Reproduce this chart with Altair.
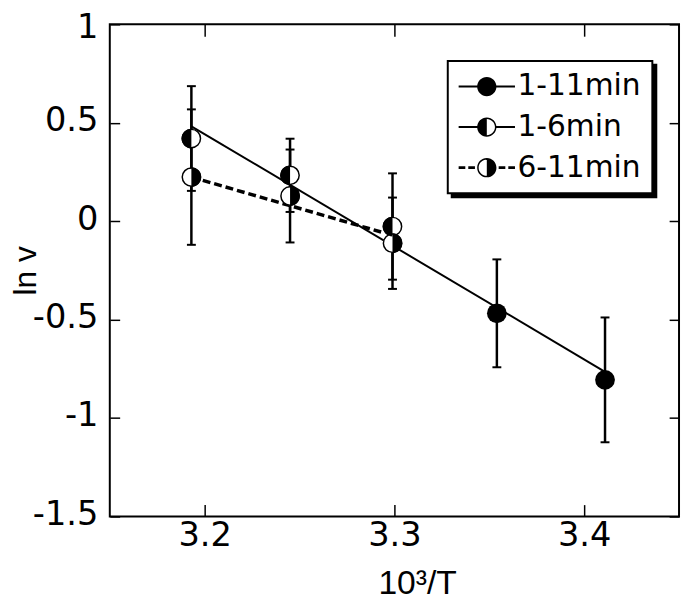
import altair as alt
import pandas as pd

# ---------------- data ----------------
series_names = ["1-11min", "1-6min", "6-11min"]

x_1_11 = [3.354, 3.411]
y_1_11 = [-0.468, -0.806]
e_1_11 = [0.274, 0.317]

x_1_6 = [3.193, 3.245, 3.299]
y_1_6 = [0.420, 0.233, -0.027]
e_1_6 = [0.266, 0.186, 0.270]

x_6_11 = [3.193, 3.245, 3.299]
y_6_11 = [0.224, 0.128, -0.112]
e_6_11 = [0.344, 0.236, 0.232]

fit_solid_x = [3.193, 3.411]
fit_solid_y = [0.482, -0.765]
fit_dash_x = [3.193, 3.293]
fit_dash_y = [0.224, -0.055]

x_ticks = [3.2, 3.3, 3.4]
y_ticks = [-1.5, -1, -0.5, 0, 0.5, 1]
x_domain = [3.15, 3.45]
y_domain = [-1.5, 1]
legend_dummy_x = 3.0   # outside the domain: legend-only layer, clipped away


# ---------------- tables ----------------
def table(name, xs, ys, es):
    return pd.DataFrame({
        "series": name, "x": xs, "y": ys,
        "lo": [a - b for a, b in zip(ys, es)],
        "hi": [a + b for a, b in zip(ys, es)],
    })

df_1_11 = table(series_names[0], x_1_11, y_1_11, e_1_11)
df_1_6 = table(series_names[1], x_1_6, y_1_6, e_1_6)
df_6_11 = table(series_names[2], x_6_11, y_6_11, e_6_11)
df_all = pd.concat([df_1_11, df_1_6, df_6_11], ignore_index=True)
df_half = pd.concat([df_1_6, df_6_11], ignore_index=True)
df_fit_solid = pd.DataFrame({"x": fit_solid_x, "y": fit_solid_y})
df_fit_dash = pd.DataFrame({"x": fit_dash_x, "y": fit_dash_y})
shadow_names = [s + "\u200b" for s in series_names]   # distinct domain -> separate (shadow) legend
df_legend = pd.DataFrame({"series": series_names, "series2": shadow_names,
                          "x": [legend_dummy_x] * 3, "y": [0.0] * 3})


# ---------------- symbol paths ----------------
def n(v):
    return f"{v:.3f}"

def rect_cw(x0, x1, h):
    return f"M{n(x0)},{n(-h)}H{n(x1)}V{n(h)}H{n(x0)}Z"

def rect_ccw(x0, x1, h):
    return f"M{n(x0)},{n(-h)}V{n(h)}H{n(x1)}V{n(-h)}Z"

def disc(r):
    return f"M{n(-r)},0A{n(r)},{n(r)},0,1,1,{n(r)},0A{n(r)},{n(r)},0,1,1,{n(-r)},0Z"

def left_half(r):
    return f"M0,{n(-r)}A{n(r)},{n(r)},0,0,0,0,{n(r)}Z"

def right_half(r):
    return f"M0,{n(-r)}A{n(r)},{n(r)},0,0,1,0,{n(r)}Z"

def right_ring(r, ri):
    return (f"M0,{n(-r)}A{n(r)},{n(r)},0,0,1,0,{n(r)}L0,{n(ri)}"
            f"A{n(ri)},{n(ri)},0,0,0,0,{n(-ri)}Z")

def left_ring(r, ri):
    return (f"M0,{n(-r)}A{n(r)},{n(r)},0,0,0,0,{n(r)}L0,{n(ri)}"
            f"A{n(ri)},{n(ri)},0,0,1,0,{n(-ri)}Z")

# legend glyphs: symbol size 900 -> 15 px per path unit; glyph spans +-1.9 units (57 px)
GLYPH_SIZE = 900
E = 1.9
R, RI, H1, H2 = 0.65, 0.55, 0.067, 0.1
glyph_full = rect_cw(-E, -R + 0.02, H1) + disc(R) + rect_cw(R - 0.02, E, H1)
glyph_left = rect_ccw(-E, -R + 0.02, H1) + left_half(R) + right_ring(R, RI) + rect_cw(R - 0.02, E, H1)
glyph_right = (rect_ccw(-1.9, -1.45, H2) + rect_ccw(-1.25, -0.8, H2) + right_half(R) + left_ring(R, RI)
               + rect_cw(0.8, 1.25, H2) + rect_cw(1.45, 1.9, H2))
half_left_path = left_half(1)
half_right_path = right_half(1)

# ---------------- scales & axes ----------------
xs = alt.Scale(domain=x_domain, nice=False, zero=False)
ys = alt.Scale(domain=y_domain, nice=False, zero=False)
LBL = "DejaVu Sans"
TTL = "Liberation Sans"

ax_bottom = alt.Axis(orient="bottom", values=x_ticks, offset=-12, tickSize=12, tickWidth=1.5,
                     tickColor="black", domain=False, grid=False, labelFont=LBL, labelFontSize=34,
                     labelColor="black", labelPadding=2, labelExpr="'' + datum.value", labelFlush=False,
                     title="10³/T", titleFont=TTL, titleFontSize=34, titleFontWeight="normal",
                     titleColor="black", titleX=311, titleY=90, titleBaseline="alphabetic",
                     titleAlign="center")
ax_left = alt.Axis(orient="left", values=y_ticks, offset=-10, tickSize=10, tickWidth=1.5,
                   tickColor="black", domain=False, grid=False, labelFont=LBL, labelFontSize=34,
                   labelColor="black", labelPadding=12, labelExpr="'' + datum.value", labelFlush=False,
                   labelOffset={"condition": {"test": "datum.value === 1", "value": 3}, "value": -2},
                   title="ln v", titleFont=TTL, titleFontSize=32, titleFontWeight="normal",
                   titleColor="black", titleX=-85, titleY=249, titleAngle=270,
                   titleBaseline="alphabetic", titleAlign="center")
ax_top = alt.Axis(orient="top", values=x_ticks, offset=-12, tickSize=12, tickWidth=1.5,
                  tickColor="black", domain=False, grid=False, labels=False, title=None)
ax_right = alt.Axis(orient="right", values=y_ticks, offset=-10, tickSize=10, tickWidth=1.5,
                    tickColor="black", domain=False, grid=False, labels=False, title=None)

def X(field="x", axis=None):
    return alt.X(f"{field}:Q", scale=xs, axis=axis)

def Y(field="y", axis=None):
    return alt.Y(f"{field}:Q", scale=ys, axis=axis)

# ---------------- layers ----------------
err_rule = alt.Chart(df_all).mark_rule(color="black", strokeWidth=2.5).encode(
    x=X(axis=ax_bottom), y=Y("lo", axis=ax_left), y2="hi:Q")
cap_lo = alt.Chart(df_all).mark_tick(orient="horizontal", size=9, thickness=2,
                                     color="black", opacity=1).encode(x=X(), y=Y("lo"))
cap_hi = alt.Chart(df_all).mark_tick(orient="horizontal", size=9, thickness=2,
                                     color="black", opacity=1).encode(x=X(), y=Y("hi"))

fit_solid = alt.Chart(df_fit_solid).mark_line(color="black", strokeWidth=2).encode(
    x=X(axis=ax_top), y=Y(axis=ax_right))
fit_dash = alt.Chart(df_fit_dash).mark_line(color="black", strokeWidth=3.5,
                                            strokeDash=[8, 4]).encode(x=X(), y=Y())

pts_full = alt.Chart(df_1_11).mark_point(filled=True, shape="circle", size=400, color="black",
                                         opacity=1, strokeWidth=0).encode(x=X(), y=Y())
pts_base = alt.Chart(df_half).mark_point(filled=True, shape="circle", size=342, fill="white",
                                         stroke="black", strokeWidth=1.5, opacity=1).encode(x=X(), y=Y())
pts_left = alt.Chart(df_1_6).mark_point(filled=True, shape=half_left_path, size=400, color="black",
                                        opacity=1, strokeWidth=0).encode(x=X(), y=Y())
pts_right = alt.Chart(df_6_11).mark_point(filled=True, shape=half_right_path, size=400, color="black",
                                          opacity=1, strokeWidth=0).encode(x=X(), y=Y())

common_leg = dict(title=None, orient="none", direction="vertical", padding=11, rowPadding=11,
                  labelFont=LBL, labelFontSize=30, labelColor="black", labelOffset=16,
                  labelLimit=400, symbolSize=GLYPH_SIZE, symbolStrokeWidth=0, symbolOffset=13.5)

# drop shadow of the legend box: an identical legend, black, 4 px lower-right, drawn underneath
shadow_leg = alt.Chart(df_legend).mark_point(filled=True, clip=True, size=GLYPH_SIZE, opacity=1,
                                             strokeWidth=0).encode(
    x=X(), y=Y(),
    color=alt.Color("series2:N", sort=shadow_names,
                    scale=alt.Scale(domain=shadow_names, range=["black", "black", "black"]),
                    legend=alt.Legend(legendX=346, legendY=41, fillColor="black", strokeColor="black",
                                      symbolType=glyph_full, **common_leg)))
real_leg = alt.Chart(df_legend).mark_point(filled=True, clip=True, size=GLYPH_SIZE, opacity=1,
                                           color="black", strokeWidth=0).encode(
    x=X(), y=Y(),
    shape=alt.Shape("series:N", sort=series_names,
                    scale=alt.Scale(domain=series_names, range=[glyph_full, glyph_left, glyph_right]),
                    legend=alt.Legend(legendX=342, legendY=37, fillColor="white", strokeColor="black",
                                      symbolFillColor="black", **common_leg)))

chart = alt.layer(
    err_rule, cap_lo, cap_hi, fit_solid, fit_dash,
    pts_full, pts_base, pts_left, pts_right, shadow_leg, real_leg
).resolve_axis(x="independent", y="independent").properties(
    width=576, height=498, autosize="none",
    padding={"left": 103, "top": 13, "right": 2, "bottom": 83},
    background="white",
).configure_view(stroke="black", strokeWidth=2).configure_legend(strokeWidth=2)

chart.save("out.html", embed_options={"renderer": "svg", "actions": False})
